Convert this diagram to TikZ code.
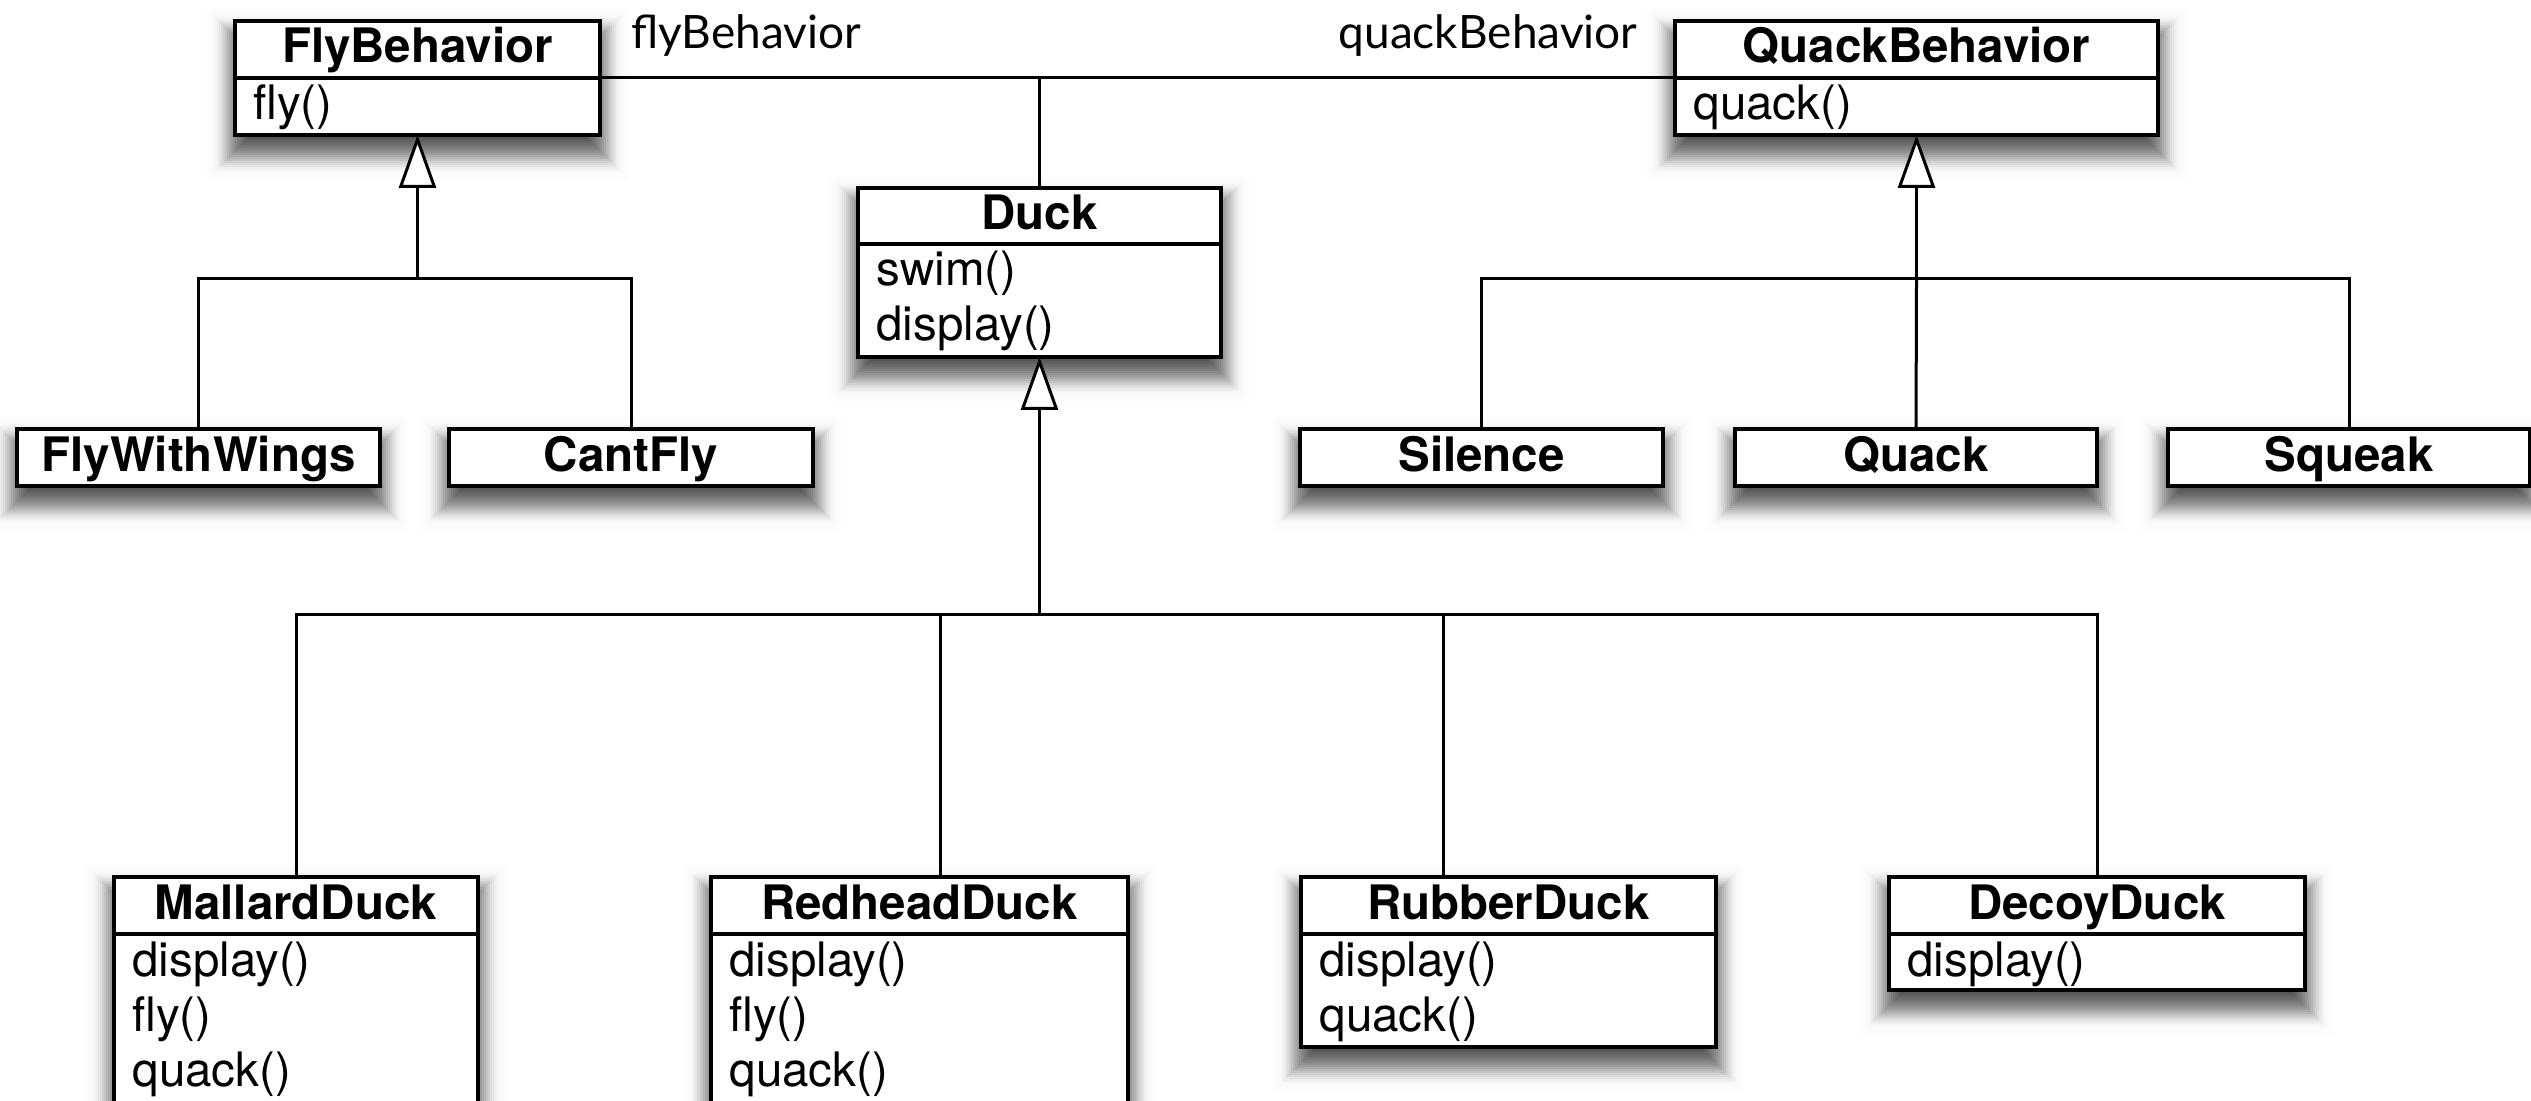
\documentclass[tikz,border=0pt]{standalone}
\usepackage{fontspec}
\newfontfamily\helv{TeX Gyre Heros}
\newfontfamily\lblfont{Lato}
\usetikzlibrary{arrows.meta,calc}
\pgfdeclarelayer{shadowlayer}
\pgfdeclarelayer{connlayer}
\pgfsetlayers{shadowlayer,connlayer,main}

\tikzset{
  umlbox/.style={draw=black, line width=1.75pt, fill=white, inner sep=0pt, outer sep=0pt, rectangle},
  divline/.style={draw=black, line width=1.75pt},
  hdr/.style={font=\helv\bfseries\fontsize{23.75pt}{28pt}\selectfont, inner sep=0pt, anchor=base},
  mbr/.style={font=\helv\fontsize{23.75pt}{28pt}\selectfont, inner sep=0pt, anchor=base west},
  lbl/.style={font=\lblfont\fontsize{23pt}{28pt}\selectfont, inner sep=0pt},
  conn/.style={draw=black, line width=1.5pt},
  inherit/.style={conn, -{Triangle[length=26.5pt, width=18.5pt, fill=white]}},
}

% name, L, T, R, B, divider y, header text  (pixel units, y downwards)
\newcommand\classbox[7]{%
  \pgfmathsetmacro\bw{(#4-#2)*0.5}%
  \pgfmathsetmacro\bh{(#5-#3)*0.5}%
  \node[umlbox, minimum width=\bw pt, minimum height=\bh pt, anchor=north west] (#1) at (#2,#3) {};
  \coordinate (#1-dw) at (#2,#6);
  \coordinate (#1-de) at (#4,#6);
  \draw[divline] (#1-dw) -- (#1-de);
  \node[hdr] (#1-h) at ({(#2+#4)/2},{#3+42}) {#7};
  \begin{pgfonlayer}{shadowlayer}
    \foreach \k in {0,...,22}{
      \pgfmathsetmacro\ee{30-2*\k}
      \pgfmathsetmacro\aa{max(0.004,min(0.065,0.0085*(\k-3)))}
      \fill[black, fill opacity=\aa] ({#2-\ee},{#3-\ee+16}) rectangle ({#4+\ee},{#5+\ee+16});
    }
  \end{pgfonlayer}
}
% name, L, divider y, list of members
\newcommand\members[4]{%
  \foreach \m [count=\i] in {#4}{
    \node[mbr] (#1-m\i) at ({#2+18},{#3+42+55*(\i-1)}) {\m};
  }
}

\begin{document}
\begin{tikzpicture}[x=0.5pt,y=-0.5pt]
\useasboundingbox (0,0) rectangle (2531,1101);
\begin{pgfonlayer}{shadowlayer}
  \fill[white] (0,0) rectangle (2531,1101);
\end{pgfonlayer}

\classbox{flybeh}{235}{21}{600}{135}{78}{FlyBehavior}
\members{flybeh}{235}{78}{fly()}
\classbox{quackbeh}{1675}{21}{2158}{135}{78}{QuackBehavior}
\members{quackbeh}{1675}{78}{quack()}
\classbox{duck}{858}{188}{1221}{357}{244}{Duck}
\members{duck}{858}{244}{swim(),display()}

\classbox{fww}{17}{429}{380}{486}{486}{FlyWithWings}
\classbox{cantfly}{449}{429}{813}{486}{486}{CantFly}
\classbox{silence}{1300}{429}{1663}{486}{486}{Silence}
\classbox{quack}{1735}{429}{2097}{486}{486}{Quack}
\classbox{squeak}{2168}{429}{2530}{486}{486}{Squeak}

\classbox{mallard}{114}{877}{478}{1130}{934}{MallardDuck}
\members{mallard}{114}{934}{display(),fly(),quack()}
\classbox{redhead}{711}{877}{1128}{1130}{934}{RedheadDuck}
\members{redhead}{711}{934}{display(),fly(),quack()}
\classbox{rubber}{1301}{877}{1716}{1047}{934}{RubberDuck}
\members{rubber}{1301}{934}{display(),quack()}
\classbox{decoy}{1889}{877}{2305}{990}{934}{DecoyDuck}
\members{decoy}{1889}{934}{display()}

\node[lbl, anchor=base west] (flylbl) at (631,49) {flyBehavior};
\node[lbl, anchor=base east] (quacklbl) at (1638,49) {quackBehavior};

\begin{pgfonlayer}{connlayer}
  % associations
  \draw[conn] (flybeh-de) -- (quackbeh-dw);
  \draw[conn] (duck.north) -- (duck.north |- flybeh-de);
  % FlyBehavior hierarchy
  \path (flybeh.south) ++(0,144) coordinate (flybus);
  \draw[conn] (fww.north) |- (flybus) -| (cantfly.north);
  \draw[inherit] (flybus) -- (flybeh.south);
  % QuackBehavior hierarchy
  \path (quackbeh.south) ++(0,144) coordinate (qbus);
  \draw[conn] (silence.north) |- (qbus) -| (squeak.north);
  \draw[conn] (quack.north) -- (qbus);
  \draw[inherit] (qbus) -- (quackbeh.south);
  % Duck hierarchy
  \path (duck.south) ++(0,257) coordinate (dbus);
  \coordinate (rhtop) at ([xshift=10.25pt]redhead.north);
  \coordinate (rbtop) at ([xshift=-32.75pt]rubber.north);
  \draw[conn] (mallard.north) |- (dbus) -| (decoy.north);
  \draw[conn] (rhtop) -- (rhtop |- dbus);
  \draw[conn] (rbtop) -- (rbtop |- dbus);
  \draw[inherit] (dbus) -- (duck.south);
\end{pgfonlayer}
\end{tikzpicture}
\end{document}
